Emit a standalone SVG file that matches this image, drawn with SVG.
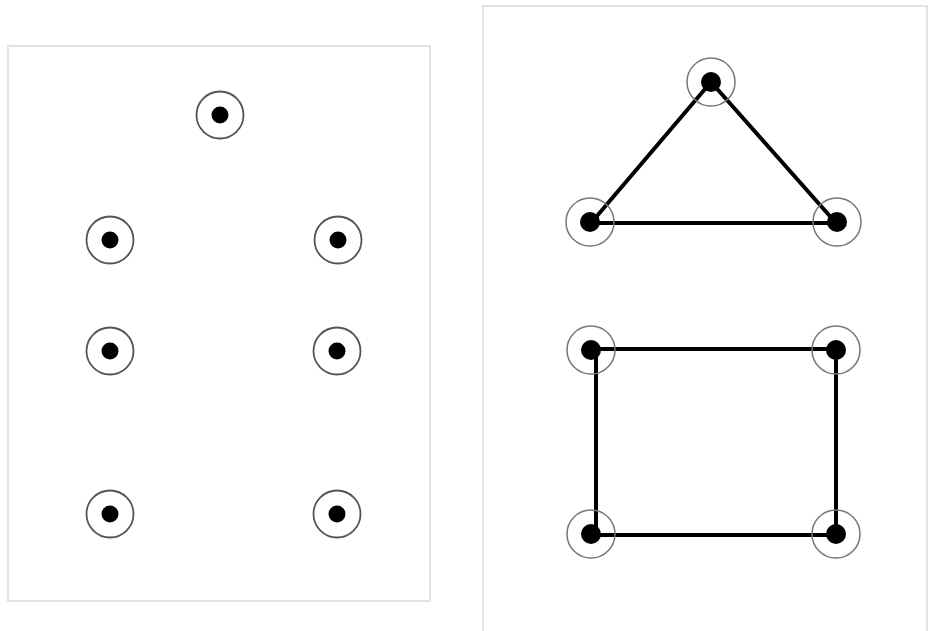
<svg xmlns="http://www.w3.org/2000/svg" width="929" height="631" viewBox="0 0 929 631">
<defs>
<style>
.panel{fill:#fff;stroke:#e2e2e2;stroke-width:2}
.ring{fill:none;stroke:#555;stroke-width:1.8}
.ring2{fill:none;stroke:#777;stroke-width:1.5}
.dot{fill:#000}
.edge{stroke:#000;stroke-width:4;fill:none;stroke-linecap:round}
</style>
</defs>
<rect width="929" height="631" fill="#fff"/>
<rect class="panel" x="8" y="46" width="422" height="555"/>
<rect class="panel" x="483" y="6" width="444" height="640"/>
<g id="connectors">
<line class="edge" x1="711" y1="82" x2="591" y2="223"/>
<line class="edge" x1="711" y1="82" x2="836" y2="223"/>
<line class="edge" x1="591" y1="223" x2="836" y2="223"/>
<polyline class="edge" points="596,349 836,349 836,535 596,535 596,349"/>
</g>
<g id="l1"><circle class="ring" cx="220" cy="115" r="23.5"/><circle class="dot" cx="220" cy="115" r="8.5"/></g>
<g id="l2"><circle class="ring" cx="110" cy="240" r="23.5"/><circle class="dot" cx="110" cy="240" r="8.5"/></g>
<g id="l3"><circle class="ring" cx="338" cy="240" r="23.5"/><circle class="dot" cx="338" cy="240" r="8.5"/></g>
<g id="l4"><circle class="ring" cx="110" cy="351" r="23.5"/><circle class="dot" cx="110" cy="351" r="8.5"/></g>
<g id="l5"><circle class="ring" cx="337" cy="351" r="23.5"/><circle class="dot" cx="337" cy="351" r="8.5"/></g>
<g id="l6"><circle class="ring" cx="110" cy="514" r="23.5"/><circle class="dot" cx="110" cy="514" r="8.5"/></g>
<g id="l7"><circle class="ring" cx="337" cy="514" r="23.5"/><circle class="dot" cx="337" cy="514" r="8.5"/></g>
<g id="t1"><circle class="ring2" cx="711" cy="82" r="24"/><circle class="dot" cx="711" cy="82" r="10"/></g>
<g id="t2"><circle class="ring2" cx="590" cy="222" r="24"/><circle class="dot" cx="590" cy="222" r="10"/></g>
<g id="t3"><circle class="ring2" cx="837" cy="222" r="24"/><circle class="dot" cx="837" cy="222" r="10"/></g>
<g id="r1"><circle class="ring2" cx="591" cy="350" r="24"/><circle class="dot" cx="591" cy="350" r="10"/></g>
<g id="r2"><circle class="ring2" cx="836" cy="350" r="24"/><circle class="dot" cx="836" cy="350" r="10"/></g>
<g id="r3"><circle class="ring2" cx="591" cy="534" r="24"/><circle class="dot" cx="591" cy="534" r="10"/></g>
<g id="r4"><circle class="ring2" cx="836" cy="534" r="24"/><circle class="dot" cx="836" cy="534" r="10"/></g>
</svg>
